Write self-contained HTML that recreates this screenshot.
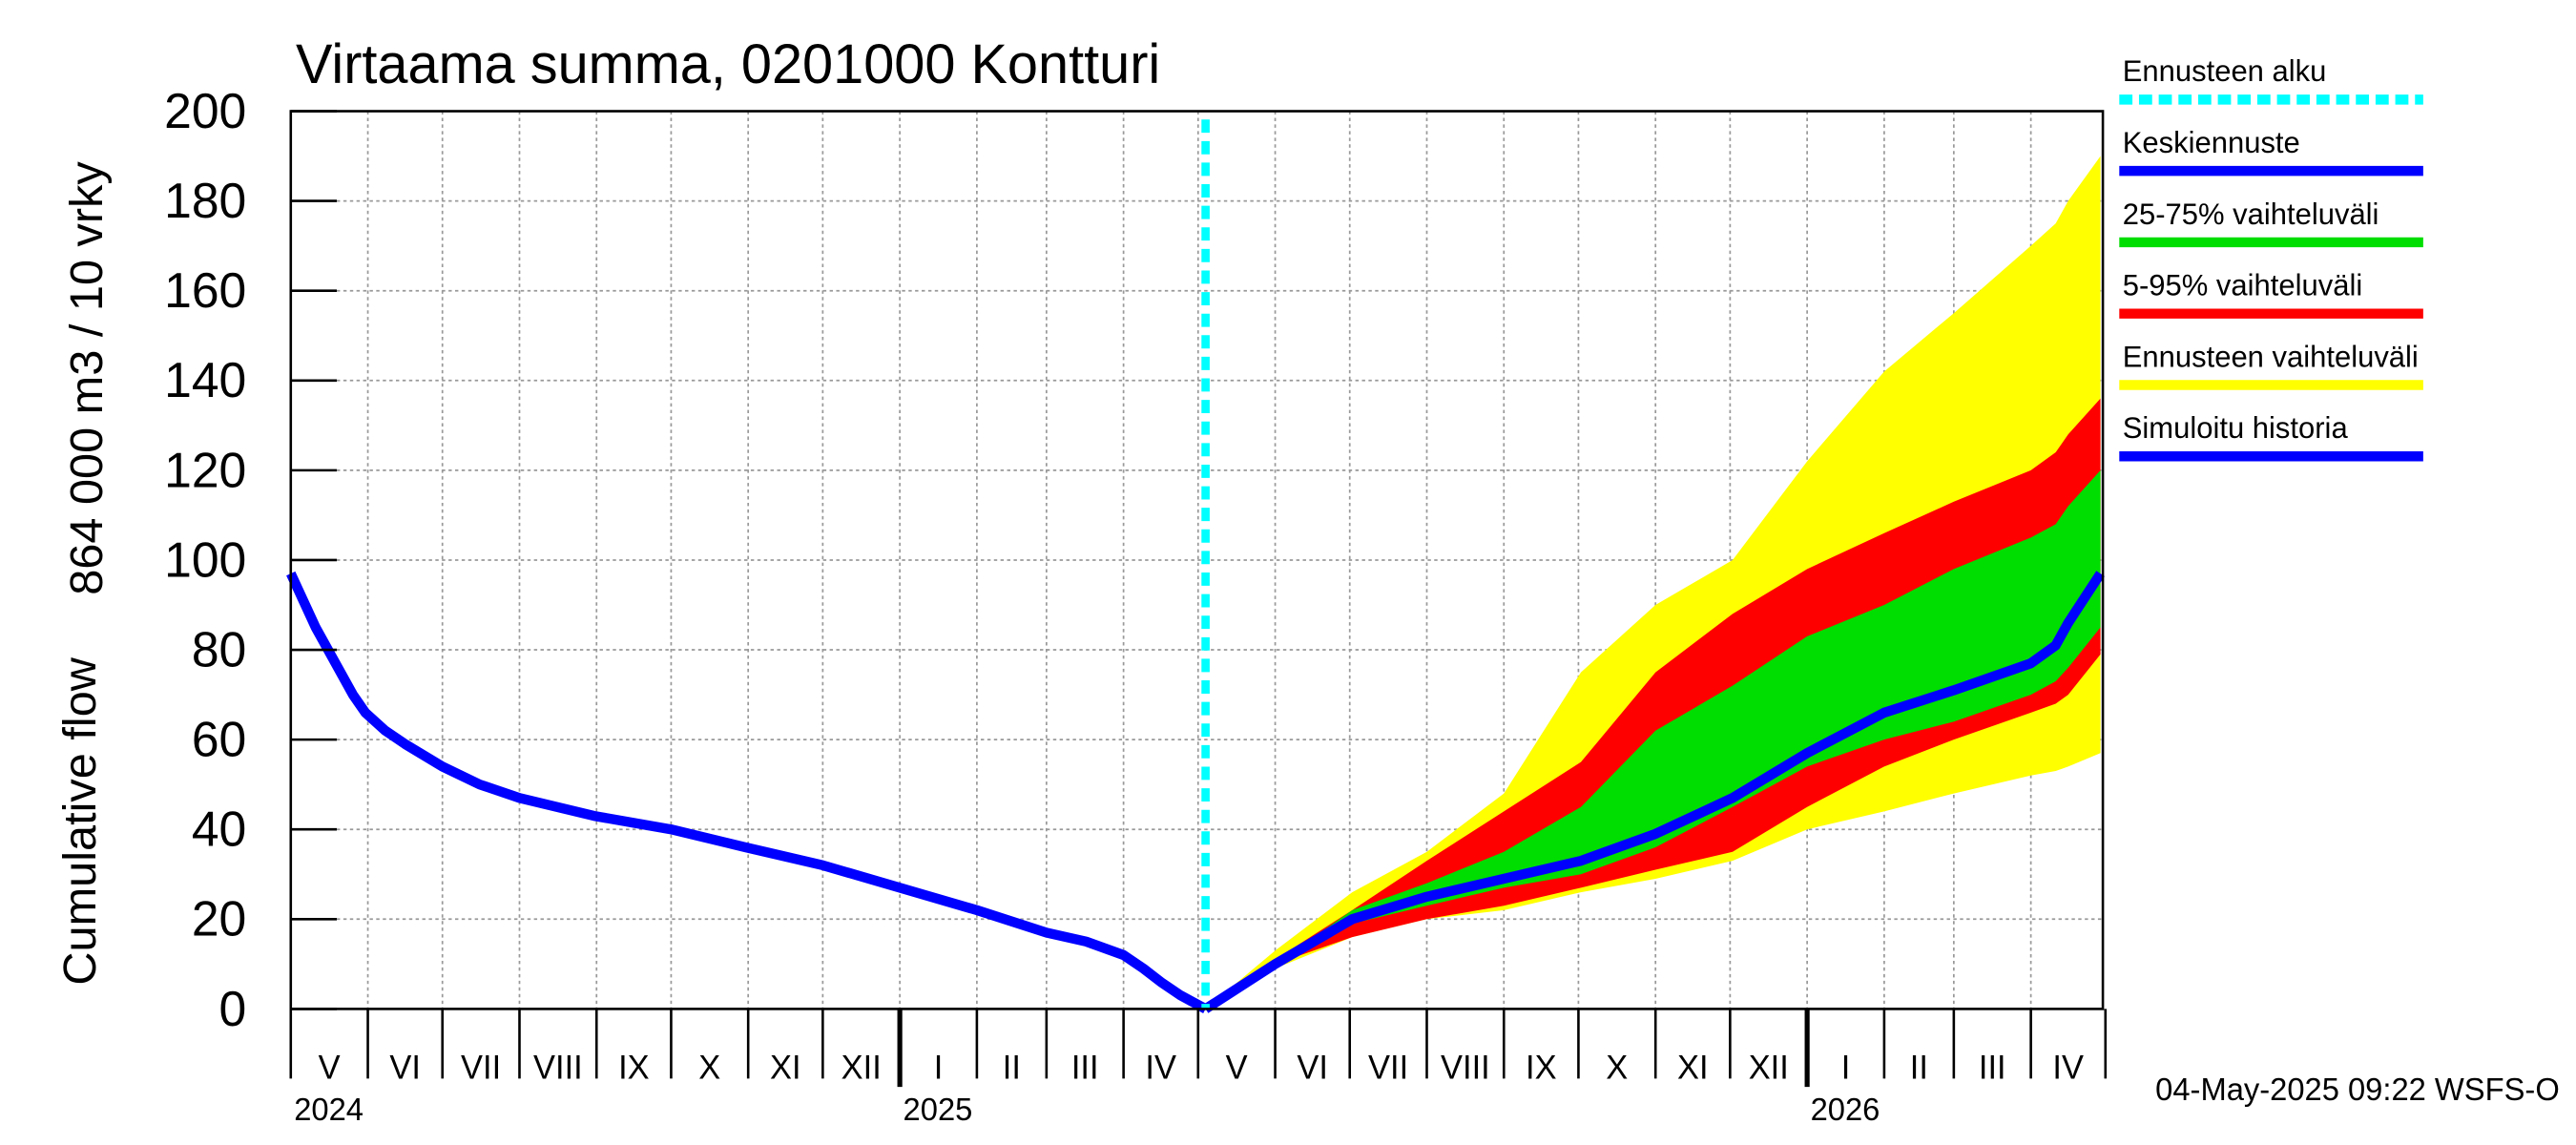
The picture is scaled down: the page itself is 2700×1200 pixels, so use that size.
<!DOCTYPE html>
<html><head><meta charset="utf-8"><style>
html,body{margin:0;padding:0;background:#fff}
svg{display:block;font-family:"Liberation Sans",sans-serif}
</style></head><body>
<svg id="chart" width="2700" height="1200" viewBox="0 0 1568 690" preserveAspectRatio="none" xmlns="http://www.w3.org/2000/svg"></svg>
<script>
// ---- data ----
const yTicks = [0,20,40,60,80,100,120,140,160,180,200];
const monthLabels = ["V","VI","VII","VIII","IX","X","XI","XII","I","II","III","IV","V","VI","VII","VIII","IX","X","XI","XII","I","II","III","IV"];
const yearLabels = ["2024","2025","2026"];
// days since 2024-05-01
const histDays = [0,5,10,15,20,25,30,38,46,61,76,92,122,153,183,214,245,276,304,320,335,343,350,358,368];
const histVals = [97,91,85,80,75,70,66,62,59,54,50,47,43,40,36,32,27,22,17,15,12,9,6,3,0];
const fcDays = [368,396,427,457,488,519,549,580,610,641,669,700,710,715,728];
const median = [0,10,20,25,29,33,39,47,57,66,71,77,81,86,97];
const yellowHi = [0,13,26,35,48,75,90,100,122,142,155,170,175,180,190];
const yellowLo = [0,9,16,20,22,26,29,33,40,44,48,52,53,54,57];
const redHi = [0,11,22,33,44,55,75,88,98,106,113,120,124,128,136];
const redLo = [0,10,16,20,23,27,31,35,45,54,60,66,68,70,79];
const greenHi = [0,10,22,28,35,45,62,72,83,90,98,105,108,112,120];
const greenLo = [0,10,19,23,27,30,36,45,54,60,64,70,73,76,85];
const forecastStartDay = 368;

// ---- axes ----
const X0=177,X1=1280,Y0=608,Y1=67;
const pxPerDay=(1100-177)/610;
const x=d=>X0+d*pxPerDay;
const y=v=>Y0-(v/200)*(Y0-Y1);
const svg=document.getElementById('chart');
const NS="http://www.w3.org/2000/svg";
function el(tag,attrs,parent){const e=document.createElementNS(NS,tag);for(const k in attrs)e.setAttribute(k,attrs[k]);(parent||svg).appendChild(e);return e;}
function txt(s,attrs){const t=el('text',attrs);t.textContent=s;return t;}

const mLens=[31,30,31,31,30,31,30,31,31,28,31,30,31,30,31,31,30,31,30,31,31,28,31,30];
let bounds=[0];for(const l of mLens)bounds.push(bounds[bounds.length-1]+l);

// grid
const grid=el('g',{stroke:'#999','stroke-width':1,'stroke-dasharray':'2,2'});


for(let i=1;i<bounds.length-1;i++){el('line',{x1:x(bounds[i]),x2:x(bounds[i]),y1:Y1,y2:Y0},grid);}
for(const v of yTicks){if(v>0)el('line',{x1:X0,x2:X1,y1:y(v),y2:y(v)},grid);}

function band(hi,lo,color,name){
  let d='M'+fcDays.map((t,i)=>x(t)+','+y(hi[i])).join('L');
  for(let i=fcDays.length-1;i>=0;i--)d+='L'+x(fcDays[i])+','+y(lo[i]);
  const p=el('path',{d:d+'Z',fill:color});
  
  
}
band(yellowHi,yellowLo,'#ffff00','forecast-range-band');
band(redHi,redLo,'#ff0000','band-5-95');
band(greenHi,greenLo,'#00dd00','band-25-75');

const hl=el('polyline',{points:histDays.map((t,i)=>x(t)+','+y(histVals[i])).join(' '),fill:'none',stroke:'#0000ff','stroke-width':6,'stroke-linejoin':'round'});


const ml=el('polyline',{points:fcDays.map((t,i)=>x(t)+','+y(median[i])).join(' '),fill:'none',stroke:'#0000ff','stroke-width':6,'stroke-linejoin':'round'});


const fs=el('line',{x1:x(forecastStartDay),x2:x(forecastStartDay),y1:Y1+5,y2:Y0,stroke:'#00ffff','stroke-width':5,'stroke-dasharray':'8,5'});



const fr=el('rect',{x:X0,y:Y1,width:X1-X0,height:Y0-Y1,fill:'none',stroke:'#000','stroke-width':1.5});



for(const v of yTicks){
  el('line',{x1:X0,x2:X0+28,y1:y(v),y2:y(v),stroke:'#000','stroke-width':1.5});
  const t=txt(String(v),{x:150,y:y(v)+10,'font-size':30,'text-anchor':'end'});
  
  
}
for(let i=0;i<bounds.length;i++){
  const yr=(i===8||i===20);
  el('line',{x1:x(bounds[i]),x2:x(bounds[i]),y1:Y0,y2:yr?655:650,stroke:'#000','stroke-width':yr?3:1.5});
}
for(let i=0;i<monthLabels.length;i++){
  const t=txt(monthLabels[i],{x:(x(bounds[i])+x(bounds[i+1]))/2,y:650,'font-size':20,'text-anchor':'middle'});
  
  
}
const yearX=[x(0)+2,x(bounds[8])+2,x(bounds[20])+2];
yearLabels.forEach((s,i)=>{const t=txt(s,{x:yearX[i],y:675,'font-size':19});
  
  });

const tt=txt('Virtaama summa, 0201000 Kontturi',{x:180,y:50,'font-size':33.5});


const yt1=txt('Cumulative flow',{x:0,y:0,'font-size':28,'text-anchor':'middle',transform:'translate(58,495) rotate(-90)'});


const yt2=txt('864 000 m3 / 10 vrky',{x:0,y:0,'font-size':28,'text-anchor':'middle',transform:'translate(62,228) rotate(-90)'});


const ft=txt('04-May-2025 09:22 WSFS-O',{x:1558,y:663,'font-size':19,'text-anchor':'end'});



const legNames=['Ennusteen alku','Keskiennuste','25-75% vaihteluväli','5-95% vaihteluväli','Ennusteen vaihteluväli','Simuloitu historia'];
const legColors=['#00ffff','#0000ff','#00dd00','#ff0000','#ffff00','#0000ff'];
legNames.forEach((n,i)=>{
  const ty=49+i*43;
  const t=txt(n,{x:1292,y:ty,'font-size':18});
  
  
  const l=el('line',{x1:1290,x2:1475,y1:ty+11,y2:ty+11,stroke:legColors[i],'stroke-width':6,'stroke-dasharray':i===0?'8,4':'none'});
  
  
});
</script>
</body></html>
